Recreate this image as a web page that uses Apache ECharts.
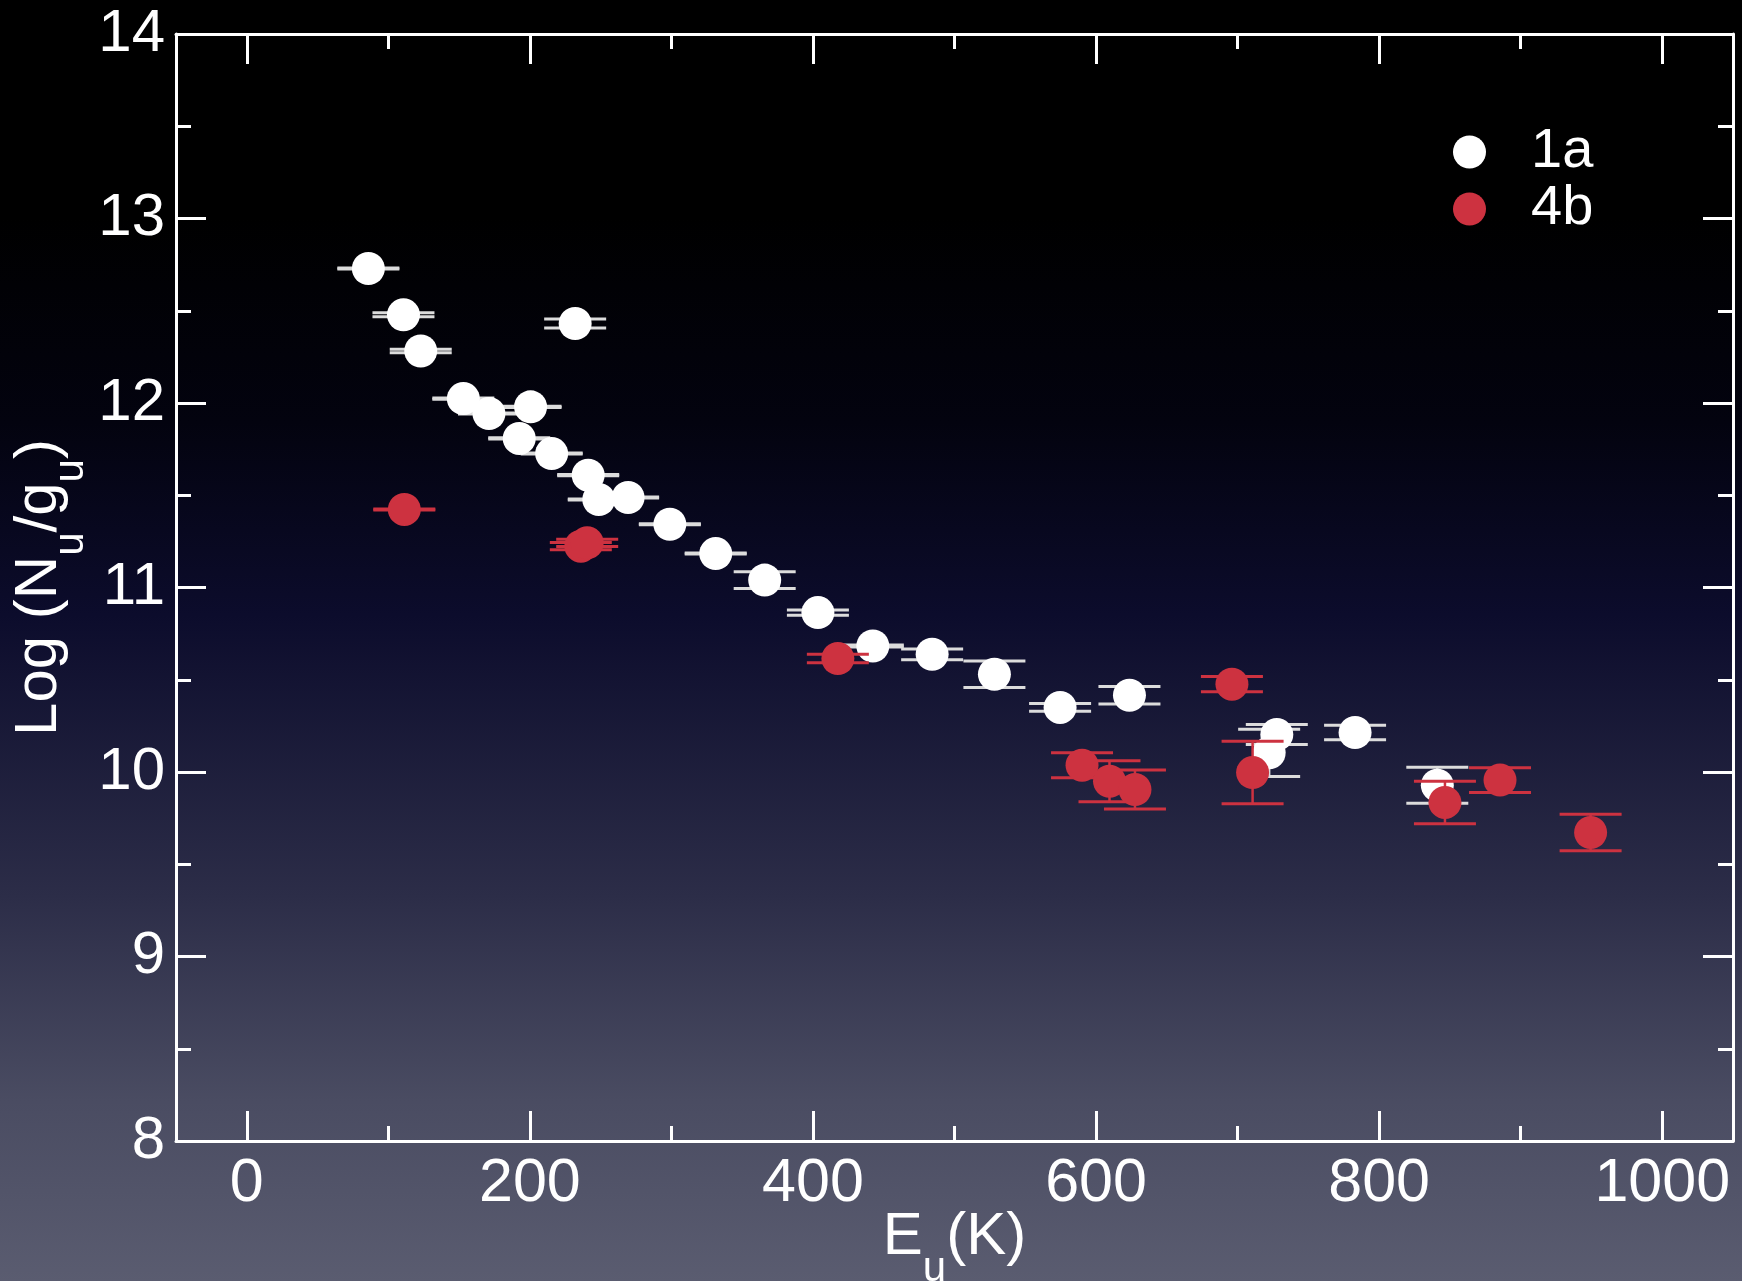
<!DOCTYPE html>
<html>
<head>
<meta charset="utf-8">
<script src="https://cdn.jsdelivr.net/npm/echarts@6/dist/echarts.min.js"></script>
<style>
  html, body { margin: 0; padding: 0; background: #000; }
  #chart { width: 1742px; height: 1281px; }
</style>
</head>
<body>
<div id="chart"></div>
<script>
// ---------- data ----------
const xMajorTicks = [0, 200, 400, 600, 800, 1000];
const xMinorTicks = [100, 300, 500, 700, 900];

// series 1a : upper-level energy (K), log(Nu/gu), error in log
const e1a   = [85.9, 110.7, 122.9, 232.0, 153.0, 171.1, 200.5, 192.5, 215.4, 241.2, 248.7, 269.4, 298.9, 331.3, 365.9, 403.5, 442.3, 484.2, 528.2, 574.6, 623.6, 722.3, 727.7, 783.0, 841.1];
const log1a = [12.729, 12.478, 12.282, 12.431, 12.024, 11.943, 11.979, 11.808, 11.726, 11.609, 11.477, 11.488, 11.343, 11.184, 11.040, 10.864, 10.683, 10.638, 10.530, 10.350, 10.416, 10.104, 10.203, 10.214, 9.928];
const err1a = [0.003, 0.011, 0.010, 0.024, 0.003, 0.003, 0.003, 0.003, 0.003, 0.003, 0.003, 0.003, 0.003, 0.003, 0.045, 0.014, 0.005, 0.029, 0.072, 0.021, 0.048, 0.128, 0.054, 0.039, 0.098];

// series 4b
const e4b   = [111.3, 236.0, 240.5, 417.6, 590.1, 609.5, 627.5, 696.0, 710.6, 846.5, 885.4, 949.4];
const log4b = [11.423, 11.224, 11.242, 10.615, 10.037, 9.950, 9.905, 10.476, 9.997, 9.835, 9.956, 9.672];
const err4b = [0.003, 0.020, 0.020, 0.023, 0.068, 0.111, 0.106, 0.041, 0.169, 0.115, 0.067, 0.099];

const names = ['1a', '4b'];

// ---------- styling ----------
const WHITE = '#ffffff';
const CAPWHITE = '#dcdcdc';
const RED = '#cd3240';
const FONT = '"Liberation Sans", Arial, Helvetica, sans-serif';
const CAP_HALF = 31;

function buildData(xs, ys, es) {
  return xs.map((x, i) => [x, ys[i], es[i]]);
}

function errRenderer(color) {
  return function (params, api) {
    const x = api.value(0), y = api.value(1), e = api.value(2);
    const top = api.coord([x, y + e]);
    const bot = api.coord([x, y - e]);
    const st = { stroke: color, lineWidth: 3 };
    return {
      type: 'group',
      children: [
        { type: 'line', shape: { x1: top[0], y1: top[1], x2: bot[0], y2: bot[1] }, style: { stroke: color, lineWidth: 2.5 } },
        { type: 'line', shape: { x1: top[0] - CAP_HALF, y1: top[1], x2: top[0] + CAP_HALF, y2: top[1] }, style: st },
        { type: 'line', shape: { x1: bot[0] - CAP_HALF, y1: bot[1], x2: bot[0] + CAP_HALF, y2: bot[1] }, style: st }
      ]
    };
  };
}

const axisLineStyle = { color: WHITE, width: 3 };
const richTitle = {
  m: { fontSize: 60, lineHeight: 126, verticalAlign: 'top', color: WHITE, fontFamily: FONT },
  s: { fontSize: 42, lineHeight: 126, verticalAlign: 'top', padding: [41, 0, 0, 0], color: WHITE, fontFamily: FONT }
};

function xAxisDef(position, ticks, len, showLine, showLabel, extra) {
  return Object.assign({
    type: 'value', min: -50, max: 1050, position: position, gridIndex: 0,
    axisLine: { show: showLine, onZero: false, lineStyle: axisLineStyle },
    axisTick: { show: true, inside: true, length: len, lineStyle: axisLineStyle, customValues: ticks },
    axisLabel: {
      show: showLabel, customValues: ticks, color: WHITE, fontSize: 61, fontFamily: FONT, margin: 13,
      formatter: function (v) { return String(v); }
    },
    splitLine: { show: false }
  }, extra || {});
}

function yAxisDef(position, showLabel, extra) {
  return Object.assign({
    type: 'value', min: 8, max: 14, interval: 1, position: position, gridIndex: 0,
    axisLine: { show: true, onZero: false, lineStyle: axisLineStyle },
    axisTick: { show: true, inside: true, length: 30, lineStyle: axisLineStyle },
    minorTick: { show: true, splitNumber: 2, length: 15, lineStyle: axisLineStyle },
    axisLabel: {
      show: showLabel, color: WHITE, fontSize: 60, fontFamily: FONT, margin: 11,
      formatter: function (v) { return String(v); }
    },
    splitLine: { show: false },
    minorSplitLine: { show: false }
  }, extra || {});
}

const chart = echarts.init(document.getElementById('chart'), null, { renderer: 'canvas' });

const option = {
  animation: false,
  graphic: [{
    type: 'rect', z: -100, silent: true,
    shape: { x: 0, y: 0, width: 1742, height: 1281 },
    style: {
      fill: new echarts.graphic.LinearGradient(0, 0, 0, 1, [
        { offset: 0.00, color: '#000000' },
        { offset: 0.17, color: '#000000' },
        { offset: 0.33, color: '#03030f' },
        { offset: 0.48, color: '#0c0c2c' },
        { offset: 0.70, color: '#2c2d48' },
        { offset: 0.86, color: '#4a4c62' },
        { offset: 1.00, color: '#5a5c70' }
      ])
    }
  }],
  grid: { left: 176, right: 9, top: 34, bottom: 140, containLabel: false, outerBoundsMode: 'none' },
  legend: {
    data: names,
    orient: 'vertical',
    left: 1448, top: 119,
    itemWidth: 33, itemHeight: 33, itemGap: 1,
    icon: 'circle',
    textStyle: { color: WHITE, fontSize: 56, lineHeight: 56, fontFamily: FONT, padding: [0, 0, 0, 40] }
  },
  xAxis: [
    xAxisDef('bottom', xMajorTicks, 30, true, true, {
      name: '{m|E}{s|u}{m|(K)}', nameLocation: 'middle', nameGap: 66, nameMoveOverlap: false,
      nameTextStyle: { color: WHITE, fontFamily: FONT, rich: richTitle }
    }),
    xAxisDef('bottom', xMinorTicks, 15, false, false),
    xAxisDef('top', xMajorTicks, 30, true, false),
    xAxisDef('top', xMinorTicks, 15, false, false)
  ],
  yAxis: [
    yAxisDef('left', true, {
      name: '{m|Log (N}{s|u}{m|/g}{s|u}{m|)}', nameLocation: 'middle', nameGap: 41, nameMoveOverlap: false,
      nameTextStyle: { color: WHITE, fontFamily: FONT, rich: richTitle }
    }),
    yAxisDef('right', false)
  ],
  series: [
    {
      name: 'err1a', type: 'custom', xAxisIndex: 0, yAxisIndex: 0, z: 2,
      renderItem: errRenderer(CAPWHITE),
      encode: { x: 0, y: 1 },
      data: buildData(e1a, log1a, err1a)
    },
    {
      name: names[0], type: 'scatter', xAxisIndex: 0, yAxisIndex: 0, z: 3,
      symbol: 'circle', symbolSize: 33,
      itemStyle: { color: WHITE, opacity: 1 },
      data: buildData(e1a, log1a, err1a)
    },
    {
      name: 'err4b', type: 'custom', xAxisIndex: 0, yAxisIndex: 0, z: 4,
      renderItem: errRenderer(RED),
      encode: { x: 0, y: 1 },
      data: buildData(e4b, log4b, err4b)
    },
    {
      name: names[1], type: 'scatter', xAxisIndex: 0, yAxisIndex: 0, z: 5,
      symbol: 'circle', symbolSize: 33,
      itemStyle: { color: RED, opacity: 1 },
      data: buildData(e4b, log4b, err4b)
    }
  ]
};

chart.setOption(option);
</script>
</body>
</html>
